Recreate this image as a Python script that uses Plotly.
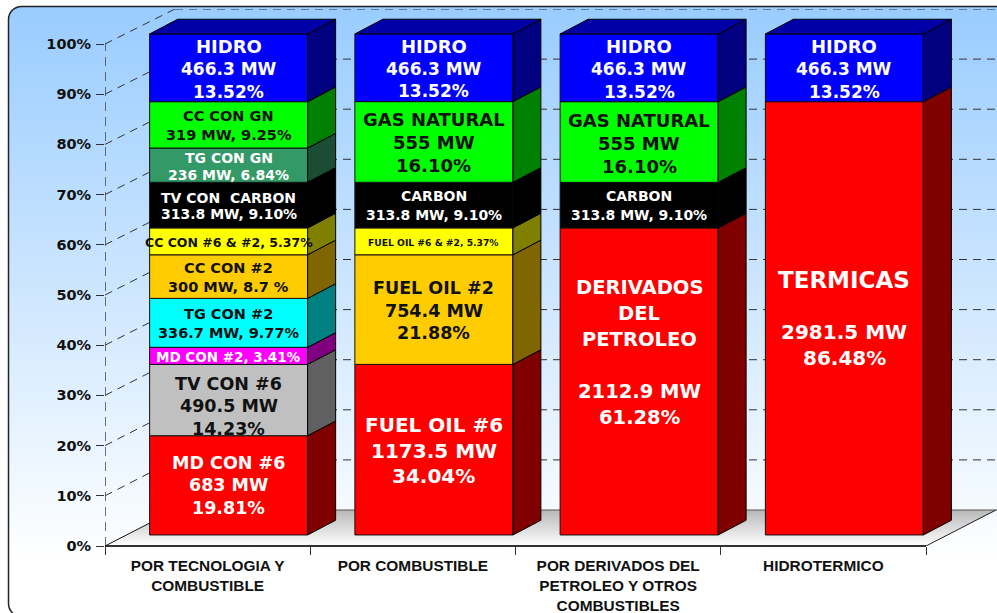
import base64
import plotly.graph_objects as go

# ---------- data (percent of installed capacity) ----------
categories = ["POR TECNOLOGIA Y<br>COMBUSTIBLE", "POR COMBUSTIBLE",
              "POR DERIVADOS DEL<br>PETROLEO Y OTROS<br>COMBUSTIBLES", "HIDROTERMICO"]
col1_values = [19.81, 14.23, 3.41, 9.77, 8.70, 5.37, 9.10, 6.84, 9.25, 13.52]
col1_colors = ["red", "gray", "magenta", "cyan", "orange", "yellow", "black", "sea", "green", "blue"]
col2_values = [34.04, 21.88, 5.37, 9.10, 16.10, 13.52]
col2_colors = ["red", "orange", "yellow", "black", "green", "blue"]
col3_values = [61.28, 9.10, 16.10, 13.52]
col3_colors = ["red", "black", "green", "blue"]
col4_values = [86.48, 13.52]
col4_colors = ["red", "blue"]
y_ticks = [0, 10, 20, 30, 40, 50, 60, 70, 80, 90, 100]
y_tick_labels = ["0%", "10%", "20%", "30%", "40%", "50%", "60%", "70%", "80%", "90%", "100%"]

FRONT = dict(red="#FF0000", gray="#C0C0C0", magenta="#FF00FF", cyan="#00FFFF", orange="#FFCC00",
             yellow="#FFFF00", black="#000000", sea="#339966", green="#00FF00", blue="#0000FF")
SIDE = dict(red="#800000", gray="#606060", magenta="#800080", cyan="#008080", orange="#806600",
            yellow="#808000", black="#000000", sea="#1A4D33", green="#008000", blue="#000080")
TOP_COLOR = "#0000A6"

# labels: column, segment, lines, colour, font size(s), line spacing px, offset px
W, K = "#FFFFFF", "#111111"
HIDRO = (["HIDRO", "466.3 MW", "13.52%"], W, [18, 17, 17], 22.7, 0)
GAS = (["GAS NATURAL", "555 MW", "16.10%"], K, 18, 23, 0)
CARBON = (["CARBON", "313.8 MW, 9.10%"], W, 14, 19, -1)
LABELS = {
    (0, 0): (["MD CON #6", "683 MW", "19.81%"], W, 17.5, 22.5, -1),
    (0, 1): (["TV CON #6", "490.5 MW", "14.23%"], K, 17.5, 22.5, 5),
    (0, 2): (["MD CON #2, 3.41%"], W, 13.5, 0, 0),
    (0, 3): (["TG CON #2", "336.7 MW, 9.77%"], K, 14.5, 19, 0),
    (0, 4): (["CC CON #2", "300 MW, 8.7 %"], K, 14.5, 19, 0),
    (0, 5): (["CC CON #6 & #2, 5.37%"], K, 12.5, 0, 0),
    (0, 6): (["TV CON  CARBON", "313.8 MW, 9.10%"], W, 14, 16.7, 0),
    (0, 7): (["TG CON GN", "236 MW, 6.84%"], W, 14, 16.7, 0),
    (0, 8): (["CC CON GN", "319 MW, 9.25%"], K, 14.5, 19, 0),
    (0, 9): HIDRO,
    (1, 0): (["FUEL OIL #6", "1173.5 MW", "34.04%"], W, 20, 25.5, 0),
    (1, 1): (["FUEL OIL #2", "754.4 MW", "21.88%"], K, 17.5, 22.5, 0),
    (1, 2): (["FUEL OIL #6 & #2, 5.37%"], K, 9.2, 0, 0),
    (1, 3): CARBON,
    (1, 4): GAS,
    (1, 5): HIDRO,
    (2, 0): (["DERIVADOS", "DEL", "PETROLEO", "", "2112.9 MW", "61.28%"], W, 19.5, 26, -30),
    (2, 1): CARBON,
    (2, 2): GAS,
    (2, 3): HIDRO,
    (3, 0): (["TERMICAS", "", "2981.5 MW", "86.48%"], W, [23, 20, 20, 20], 26, 0),
    (3, 1): HIDRO,
}

# ---------- geometry of the pseudo-3D projection ----------
PX_PER_U, PX_PER_PCT = 205.25, 5.02
BAR_WIDTH = 158 / PX_PER_U
BAR_SHIFT = 21 / PX_PER_U
BAR_LIFT = 2.2
BAR_SCALE = 0.998
LABEL_DROP = 0.2
DEPTH_X = 28 / PX_PER_U
DEPTH_Y = 14.7 / PX_PER_PCT
WALL_X = 70 / PX_PER_U
WALL_Y = 36 / PX_PER_PCT
RIGHT_EDGE = (997 - 105) / PX_PER_U - 0.5
Y_TOP = (546 - 9) / PX_PER_PCT

columns = [(col1_values, col1_colors), (col2_values, col2_colors),
           (col3_values, col3_colors), (col4_values, col4_colors)]

fig = go.Figure()
annotations = []
for ci, (vals, cols) in enumerate(columns):
    xc = ci + BAR_SHIFT
    xr = xc + BAR_WIDTH / 2
    xl = xc - BAR_WIDTH / 2
    cum = 0.0
    for si, (v, c) in enumerate(zip(vals, cols)):
        y0 = BAR_LIFT + cum * BAR_SCALE
        y1 = BAR_LIFT + (cum + v) * BAR_SCALE
        fig.add_trace(go.Bar(x=[xc], y=[v * BAR_SCALE], base=[y0], width=BAR_WIDTH,
                             marker=dict(color=FRONT[c], line=dict(color="#111111", width=1)),
                             cliponaxis=False, showlegend=False, hoverinfo="skip"))
        fig.add_trace(go.Scatter(x=[xr, xr + DEPTH_X, xr + DEPTH_X, xr, xr],
                                 y=[y0, y0 + DEPTH_Y, y1 + DEPTH_Y, y1, y0],
                                 mode="lines", fill="toself", fillcolor=SIDE[c],
                                 line=dict(color="#000000", width=1),
                                 cliponaxis=False, showlegend=False, hoverinfo="skip"))
        lines, color, size, spacing, off = LABELS[(ci, si)]
        n = len(lines)
        for li, t in enumerate(lines):
            if not t:
                continue
            fs = size[li] if isinstance(size, list) else size
            annotations.append(dict(
                x=xc, y=(y0 + y1) / 2 - LABEL_DROP, xref="x", yref="y", text=t, showarrow=False,
                yshift=-((li - (n - 1) / 2) * spacing + off),
                font=dict(family="DejaVu Sans", size=fs, color=color, weight=700)))
        cum += v
    ytop = BAR_LIFT + cum * BAR_SCALE
    fig.add_trace(go.Scatter(x=[xl, xl + DEPTH_X, xr + DEPTH_X, xr, xl],
                             y=[ytop, ytop + DEPTH_Y, ytop + DEPTH_Y, ytop, ytop],
                             mode="lines", fill="toself", fillcolor=TOP_COLOR,
                             line=dict(color="#000000", width=1),
                             cliponaxis=False, showlegend=False, hoverinfo="skip"))

# ---------- walls / floor ----------
DASH = "8px,6px"
shapes = []
def seg(x0, y0, x1, y1, color="#333333", width=1, dash=None, yref="y"):
    shapes.append(dict(type="line", layer="below", xref="x", yref=yref, x0=x0, y0=y0, x1=x1, y1=y1,
                       line=dict(color=color, width=width, dash=dash or "solid")))

for t in y_ticks[1:]:
    wy = WALL_Y + t * BAR_SCALE
    seg(-0.5, t, -0.5 + WALL_X, wy, dash=DASH)
    seg(-0.5 + WALL_X, wy, RIGHT_EDGE, wy, dash=DASH)
seg(-0.5, 0, -0.5, 100, color="#444444", width=1.5, dash="9px,6px")
seg(-0.5, 0, -0.5 + WALL_X, WALL_Y, color="#111111")
seg(3.5, 0, 3.5 + WALL_X, WALL_Y, color="#222222")
seg(-0.5 + WALL_X, WALL_Y, RIGHT_EDGE, WALL_Y, color="#555555")
seg(-0.5, 0, 3.5, 0, color="#333333", width=2, yref="paper")

svg = """<svg xmlns="http://www.w3.org/2000/svg" width="997" height="613" viewBox="0 0 997 613">
<defs>
<linearGradient id="b" gradientUnits="userSpaceOnUse" x1="0" y1="6" x2="0" y2="560">
<stop offset="0" stop-color="#99CCFF"/><stop offset="1" stop-color="#FFFFFF"/></linearGradient>
<linearGradient id="f" gradientUnits="userSpaceOnUse" x1="0" y1="510" x2="0" y2="546">
<stop offset="0" stop-color="#B8B8B8"/><stop offset="1" stop-color="#FFFFFF"/></linearGradient>
</defs>
<rect width="997" height="613" fill="#FFFFFF"/>
<rect x="8.5" y="6.5" width="1100" height="610" rx="13" ry="13" fill="url(#b)" stroke="#222222" stroke-width="1.5"/>
<polygon points="105,546 175,510 997,510 926,546" fill="url(#f)"/>
</svg>"""
img = "data:image/svg+xml;base64," + base64.b64encode(svg.encode()).decode()

L, R, T, B = 105, 0, 9, 67
PW, PH = 997 - L - R, 613 - T - B
AX_FONT = dict(family="DejaVu Sans", size=14.5, color="#111111", weight=700)

fig.update_layout(
    width=997, height=613, margin=dict(l=L, r=R, t=T, b=B, pad=0, autoexpand=False),
    paper_bgcolor="rgba(0,0,0,0)", plot_bgcolor="rgba(0,0,0,0)",
    barmode="overlay", showlegend=False, shapes=shapes, annotations=annotations,
    images=[dict(source=img, xref="paper", yref="paper", layer="below",
                 x=-L / PW, y=1 + T / PH, sizex=997 / PW, sizey=613 / PH,
                 sizing="stretch", xanchor="left", yanchor="top")],
    xaxis=dict(range=[-0.5, RIGHT_EDGE], tickmode="array", tickvals=[0, 1, 2, 3], ticktext=categories,
               ticks="", showgrid=False, zeroline=False, showline=False,
               tickangle=0, ticklabelstandoff=9, automargin=False,
               tickfont=dict(family="Liberation Sans", size=15.4, color="#111111", weight=700),
               minor=dict(tickmode="array", tickvals=[-0.5, 0.5, 1.5, 2.5, 3.5], ticks="outside",
                          ticklen=8, tickcolor="#333333", tickwidth=1, showgrid=False)),
    yaxis=dict(range=[0, Y_TOP], tickmode="array", tickvals=y_ticks, ticktext=y_tick_labels, ticks="outside",
               ticklen=8, tickcolor="#333333", tickwidth=1, showgrid=False, zeroline=False,
               showline=False, ticklabelstandoff=2, tickfont=AX_FONT, automargin=False),
)
fig.write_html("out.html", post_script="document.body.style.margin='0';document.body.style.overflow='hidden';",
               config=dict(displayModeBar=False))
